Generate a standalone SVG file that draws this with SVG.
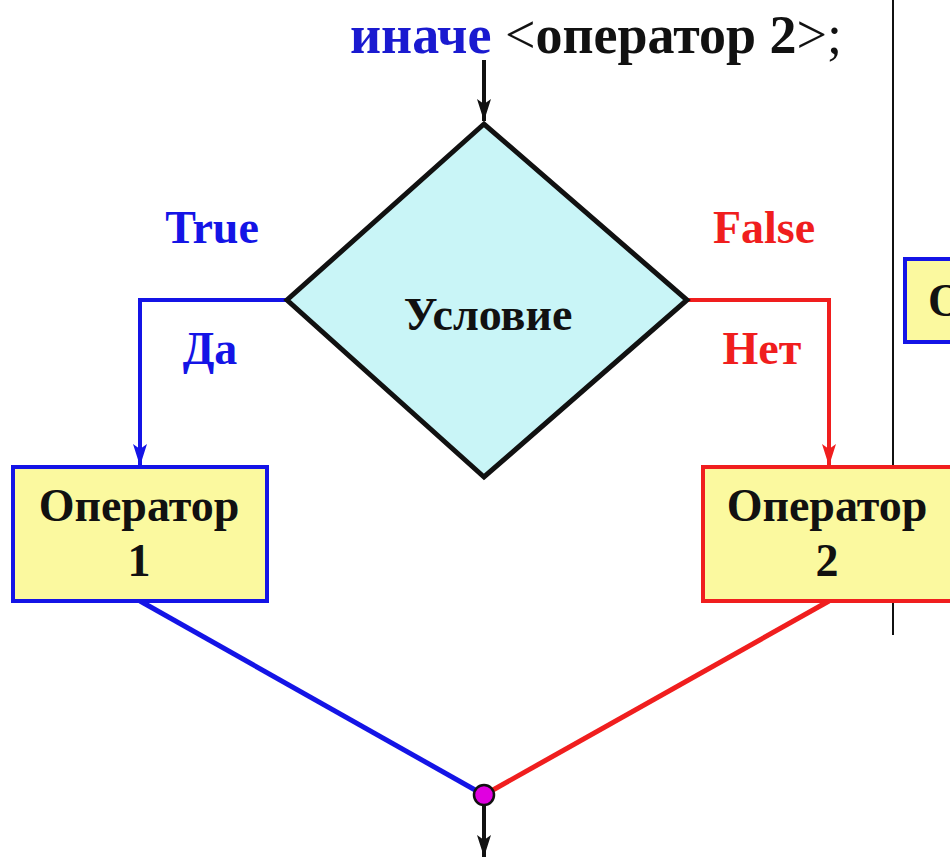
<svg xmlns="http://www.w3.org/2000/svg" width="950" height="860" viewBox="0 0 950 860">
<style>
.t{font-family:"Liberation Serif","Times New Roman",serif;font-weight:bold;text-anchor:middle;font-size:46px}
.box{fill:#fbf99f;stroke-width:4}
.blue{fill:#1414e6}
.red{fill:#f01e1e}
.k{fill:#111}
</style>
<defs>
<marker id="ak" viewBox="0 0 22 14" refX="22" refY="7" markerWidth="22" markerHeight="14" markerUnits="userSpaceOnUse" orient="auto"><path d="M0,0 L22,7 L0,14 L5,7 Z" fill="#111"/></marker>
<marker id="ab" viewBox="0 0 22 14" refX="22" refY="7" markerWidth="22" markerHeight="14" markerUnits="userSpaceOnUse" orient="auto"><path d="M0,0 L22,7 L0,14 L5,7 Z" fill="#1414e6"/></marker>
<marker id="ar" viewBox="0 0 22 14" refX="22" refY="7" markerWidth="22" markerHeight="14" markerUnits="userSpaceOnUse" orient="auto"><path d="M0,0 L22,7 L0,14 L5,7 Z" fill="#f01e1e"/></marker>
</defs>
<rect width="950" height="860" fill="#fff"/>
<line x1="893" y1="0" x2="893" y2="635" stroke="#111" stroke-width="2"/>
<text x="350" y="53" style="font-family:'Liberation Serif','Times New Roman',serif;font-size:54px"><tspan font-weight="bold" fill="#1a1ad0">иначе</tspan><tspan fill="#111"> &lt;</tspan><tspan font-weight="bold" fill="#111">оператор 2</tspan><tspan fill="#111">&gt;;</tspan></text>
<g id="connectors" fill="none" stroke-width="4">
<line x1="484" y1="60" x2="484" y2="121" stroke="#111" marker-end="url(#ak)"/>
<polyline points="287,300 140,300 140,466" stroke="#1414e6" marker-end="url(#ab)"/>
<polyline points="687,300 829,300 829,466" stroke="#f01e1e" marker-end="url(#ar)"/>
<line x1="140" y1="601" x2="484" y2="795" stroke="#1414e6" stroke-width="5"/>
<line x1="829" y1="601" x2="484" y2="795" stroke="#f01e1e" stroke-width="5"/>
<line x1="484" y1="805" x2="484" y2="857" stroke="#111" marker-end="url(#ak)"/>
</g>
<g id="labels">
<text class="t blue" x="212" y="243">True</text>
<text class="t red" x="764" y="243">False</text>
<text class="t blue" x="210" y="364">Да</text>
<text class="t red" x="762" y="364">Нет</text>
</g>
<g id="condition">
<polygon points="484,124 287,300 484,477 687,300" fill="#c9f5f7" stroke="#111" stroke-width="5"/>
<text class="t k" x="488" y="330">Условие</text>
</g>
<g id="op1">
<rect class="box" x="13" y="467" width="254" height="134" stroke="#1414e6"/>
<text class="t k" x="139" y="521">Оператор</text>
<text class="t k" x="139" y="576">1</text>
</g>
<g id="op2">
<rect class="box" x="703" y="467" width="260" height="134" stroke="#f01e1e"/>
<text class="t k" x="827" y="521">Оператор</text>
<text class="t k" x="827" y="576">2</text>
</g>
<g id="op-right">
<rect class="box" x="905" y="259" width="60" height="83" stroke="#1414e6"/>
<text x="928" y="316" style="font-family:'Liberation Serif','Times New Roman',serif;font-weight:bold;font-size:46px" fill="#111">О</text>
</g>
<g id="join">
<circle cx="484" cy="795" r="10" fill="#e000e0" stroke="#111" stroke-width="2.5"/>
</g>
</svg>
